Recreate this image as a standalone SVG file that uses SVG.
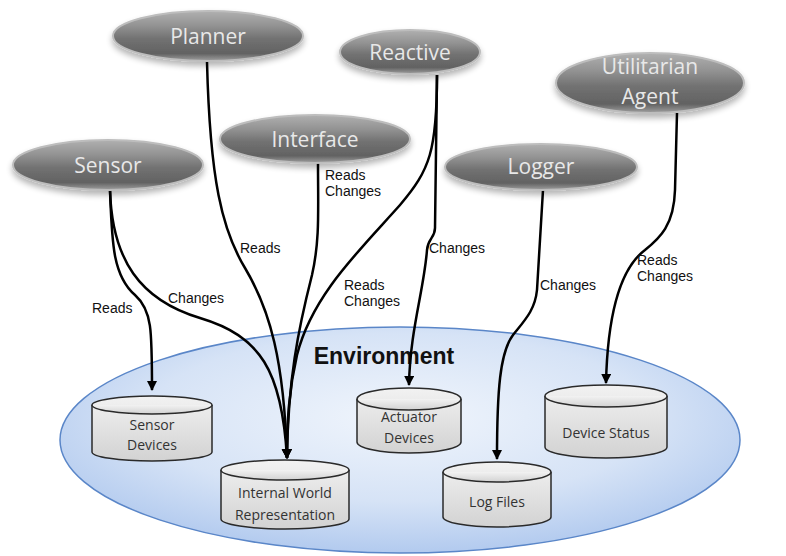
<svg xmlns="http://www.w3.org/2000/svg" width="786" height="556" viewBox="0 0 786 556">
<defs>
  <radialGradient id="envG" cx="50%" cy="40%" r="62%">
    <stop offset="0" stop-color="#f0f5fc"/>
    <stop offset="0.6" stop-color="#d6e3f6"/>
    <stop offset="1" stop-color="#afc8ee"/>
  </radialGradient>
  <linearGradient id="nodeG" x1="0" y1="0" x2="0" y2="1">
    <stop offset="0" stop-color="#b0b0b0"/>
    <stop offset="0.3" stop-color="#929292"/>
    <stop offset="0.55" stop-color="#727272"/>
    <stop offset="0.85" stop-color="#626262"/>
    <stop offset="1" stop-color="#a0a0a0"/>
  </linearGradient>
  <linearGradient id="cylG" x1="0" y1="0" x2="0" y2="1">
    <stop offset="0" stop-color="#f2f2f2"/>
    <stop offset="1" stop-color="#d2d2d2"/>
  </linearGradient>
  <filter id="sh" x="-20%" y="-30%" width="140%" height="170%">
    <feGaussianBlur in="SourceAlpha" stdDeviation="3"/>
    <feOffset dx="0" dy="4" result="b"/>
    <feComponentTransfer><feFuncA type="linear" slope="0.3"/></feComponentTransfer>
    <feMerge><feMergeNode/><feMergeNode in="SourceGraphic"/></feMerge>
  </filter>
  <marker id="arr" viewBox="0 0 10 10" refX="9" refY="5" markerWidth="4" markerHeight="4" orient="auto" markerUnits="strokeWidth">
    <path d="M0,0 L10,5 L0,10 z" fill="#000"/>
  </marker>
</defs>
<style>
  .node ellipse { fill: url(#nodeG); stroke: #bdbdbd; stroke-width: 2; filter: url(#sh); }
  .nt { font-family: "Open Sans", "Liberation Sans", sans-serif; font-size: 21px; fill: #e8e8e8; text-anchor: middle; }
  .cyl path { fill: url(#cylG); stroke: #2a2a2a; stroke-width: 1.5; }
  .ct { font-family: "Open Sans", "Liberation Sans", sans-serif; font-size: 14px; fill: #333; text-anchor: middle; }
  .conn path { fill: none; stroke: #000; stroke-width: 2.5; }
  .lbl { font-family: "Liberation Sans", Arial, sans-serif; font-size: 14px; fill: #111; }
</style>
<rect width="786" height="556" fill="#fff"/>

<g id="environment">
  <ellipse cx="400" cy="440" rx="340" ry="113" fill="url(#envG)" stroke="#5a86c8" stroke-width="1.5"/>
  <text x="384" y="364" font-family="'Liberation Sans', Arial, sans-serif" font-size="23" font-weight="bold" fill="#111" text-anchor="middle">Environment</text>
</g>

<g id="sensor-devices" class="cyl">
  <path d="M92,405 L92,452 A60,9 0 0 0 212,452 L212,405 A60,9 0 0 0 92,405 Z"/>
  <path d="M92,405 A60,9 0 0 0 212,405"/>
  <text class="ct" x="152" y="430">Sensor</text>
  <text class="ct" x="152" y="450">Devices</text>
</g>
<g id="internal-world" class="cyl">
  <path d="M221,470 L221,519 A64,10 0 0 0 349,519 L349,470 A64,10 0 0 0 221,470 Z"/>
  <path d="M221,470 A64,10 0 0 0 349,470"/>
  <text class="ct" x="285" y="498">Internal World</text>
  <text class="ct" x="285" y="520">Representation</text>
</g>
<g id="actuator-devices" class="cyl">
  <path d="M357,399 L357,442 A52,11 0 0 0 461,442 L461,399 A52,11 0 0 0 357,399 Z"/>
  <path d="M357,399 A52,11 0 0 0 461,399"/>
  <text class="ct" x="409" y="422">Actuator</text>
  <text class="ct" x="409" y="443">Devices</text>
</g>
<g id="log-files" class="cyl">
  <path d="M443,472 L443,517 A54,10 0 0 0 551,517 L551,472 A54,10 0 0 0 443,472 Z"/>
  <path d="M443,472 A54,10 0 0 0 551,472"/>
  <text class="ct" x="497" y="507">Log Files</text>
</g>
<g id="device-status" class="cyl">
  <path d="M545,396 L545,447 A61,11 0 0 0 667,447 L667,396 A61,11 0 0 0 545,396 Z"/>
  <path d="M545,396 A61,11 0 0 0 667,396"/>
  <text class="ct" x="606" y="438">Device Status</text>
</g>

<g id="connectors" class="conn">
  <path d="M110,190 C112,240 112,275 135,295 C152,310 152,330 152,390" marker-end="url(#arr)"/>
  <path d="M110,190 C112,260 140,300 200,318 C260,336 282,370 287,458" marker-end="url(#arr)"/>
  <path d="M207,62 C210,180 222,230 245,268 C270,310 284,360 287,458" marker-end="url(#arr)"/>
  <path d="M318,163 C318,210 320,240 312,275 C298,330 288,380 287,458" marker-end="url(#arr)"/>
  <path d="M437,75 C437,150 430,170 400,205 C360,250 312,295 297,355 C289,390 287,420 287,458" marker-end="url(#arr)"/>
  <path d="M437,75 L435,228 C435,238 428,238 427,250 C424,290 410,330 409,385" marker-end="url(#arr)"/>
  <path d="M543,190 L537,290 C535,310 525,320 513,335 C500,352 497,390 497,459" marker-end="url(#arr)"/>
  <path d="M677,113 L675,190 C674,225 660,238 645,250 C625,265 608,300 606,383" marker-end="url(#arr)"/>
</g>

<g id="labels">
  <text class="lbl" x="92" y="313">Reads</text>
  <text class="lbl" x="168" y="303">Changes</text>
  <text class="lbl" x="240" y="253">Reads</text>
  <text class="lbl" x="325" y="180">Reads</text>
  <text class="lbl" x="325" y="196">Changes</text>
  <text class="lbl" x="344" y="290">Reads</text>
  <text class="lbl" x="344" y="306">Changes</text>
  <text class="lbl" x="429" y="253">Changes</text>
  <text class="lbl" x="540" y="290">Changes</text>
  <text class="lbl" x="637" y="265">Reads</text>
  <text class="lbl" x="637" y="281">Changes</text>
</g>

<g id="planner" class="node">
  <ellipse cx="208" cy="36" rx="95" ry="25"/>
  <text class="nt" x="208" y="44">Planner</text>
</g>
<g id="reactive" class="node">
  <ellipse cx="410" cy="52" rx="70" ry="22"/>
  <text class="nt" x="410" y="60">Reactive</text>
</g>
<g id="interface" class="node">
  <ellipse cx="315" cy="139" rx="95" ry="24"/>
  <text class="nt" x="315" y="147">Interface</text>
</g>
<g id="sensor" class="node">
  <ellipse cx="108" cy="165" rx="95" ry="25"/>
  <text class="nt" x="108" y="173">Sensor</text>
</g>
<g id="logger" class="node">
  <ellipse cx="541" cy="167" rx="96" ry="23"/>
  <text class="nt" x="541" y="174">Logger</text>
</g>
<g id="utilitarian-agent" class="node">
  <ellipse cx="650" cy="83" rx="94" ry="30"/>
  <text class="nt" x="650" y="74">Utilitarian</text>
  <text class="nt" x="650" y="104">Agent</text>
</g>
</svg>
